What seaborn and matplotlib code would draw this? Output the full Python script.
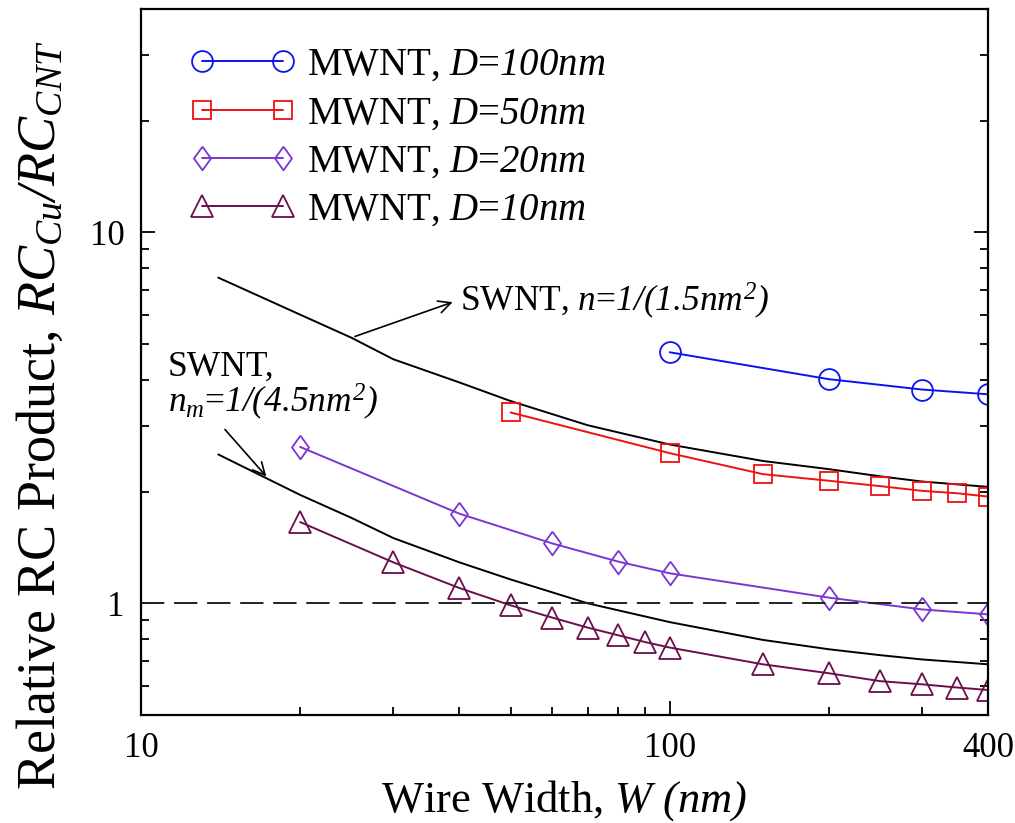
import numpy as np
import pandas as pd
import matplotlib
matplotlib.use("Agg")
import matplotlib.pyplot as plt
from matplotlib.ticker import FixedLocator, NullFormatter, FixedFormatter
import seaborn as sns

# ---- data -------------------------------------------------------------
w_d100 = [100, 200, 300, 400]
rc_d100 = [4.75, 4.02, 3.77, 3.66]

w_d50 = [50, 100, 150, 200, 250, 300, 350, 400]
rc_d50 = [3.27, 2.54, 2.23, 2.14, 2.07, 2.01, 1.98, 1.94]

w_d20 = [20, 40, 60, 80, 100, 200, 300, 400]
rc_d20 = [2.64, 1.745, 1.45, 1.295, 1.205, 1.036, 0.963, 0.934]

w_d10 = [20, 30, 40, 50, 60, 70, 80, 90, 100, 150, 200, 250, 300, 350, 400]
rc_d10 = [1.656, 1.29, 1.10, 0.988, 0.915, 0.86, 0.82, 0.786, 0.76,
          0.685, 0.648, 0.617, 0.605, 0.593, 0.584]

w_swnt = [14, 20, 25, 30, 40, 50, 70, 100, 150, 200, 250, 300, 400]
rc_swnt_dense = [7.55, 6.0, 5.2, 4.55, 3.94, 3.51, 3.02, 2.68, 2.42, 2.30, 2.20, 2.13, 2.06]
rc_swnt_metal = [2.52, 1.96, 1.70, 1.50, 1.29, 1.16, 1.0, 0.89, 0.797, 0.752, 0.725, 0.706, 0.685]

mwnt_labels = [r"MWNT, $D$=$100nm$", r"MWNT, $D$=$50nm$",
               r"MWNT, $D$=$20nm$", r"MWNT, $D$=$10nm$"]
x_tick_values = [10, 100, 400]
x_tick_labels = ["10", "100", "400"]
y_tick_values = [1, 10]
y_tick_labels = ["1", "10"]

# ---- style ------------------------------------------------------------
sns.set_theme(style="white")
plt.rcParams["font.family"] = ["Liberation Serif", "DejaVu Serif"]
plt.rcParams["mathtext.fontset"] = "custom"
# math parts are set fully in italic (digits and symbols included)
plt.rcParams["mathtext.rm"] = "Liberation Serif:italic"
plt.rcParams["mathtext.it"] = "Liberation Serif:italic"
plt.rcParams["mathtext.bf"] = "Liberation Serif:bold"
for key in ("text.color", "axes.labelcolor", "xtick.color", "ytick.color", "axes.edgecolor"):
    plt.rcParams[key] = "black"

fig = plt.figure(figsize=(10.15, 8.23), dpi=100)
ax = fig.add_axes([0.1389, 0.1312, 0.8345, 0.8579])

diamond = [(0, 1), (0.72, 0), (0, -1), (-0.72, 0), (0, 1)]
series = [
    (w_d100, rc_d100, "#0A14F0", "o", 15, mwnt_labels[0]),
    (w_d50, rc_d50, "#F01010", "s", 13, mwnt_labels[1]),
    (w_d20, rc_d20, "#7B35D2", diamond, 17, mwnt_labels[2]),
    (w_d10, rc_d10, "#6A0E4C", "^", 16, mwnt_labels[3]),
]

# SWNT reference curves
for rc in (rc_swnt_dense, rc_swnt_metal):
    sns.lineplot(x=w_swnt, y=rc, ax=ax, color="black", lw=1.4, errorbar=None)

for w, rc, col, mk, ms, lab in series:
    sns.lineplot(x=w, y=rc, ax=ax, color=col, lw=1.4, errorbar=None,
                 marker=mk, markersize=ms, markerfacecolor="none",
                 markeredgecolor=col, markeredgewidth=1.3, label=lab)

ax.axhline(1, color="#222222", lw=1.4, dashes=(12, 5))

ax.set_xscale("log")
ax.set_yscale("log")
ax.set_xlim(10, 400)
ax.set_ylim(0.5, 40)

ax.xaxis.set_major_locator(FixedLocator(x_tick_values))
ax.xaxis.set_major_formatter(FixedFormatter(x_tick_labels))
ax.xaxis.set_minor_locator(FixedLocator([20, 30, 40, 50, 60, 70, 80, 90, 200, 300]))
ax.xaxis.set_minor_formatter(NullFormatter())
ax.yaxis.set_major_locator(FixedLocator(y_tick_values))
ax.yaxis.set_major_formatter(FixedFormatter(y_tick_labels))
ax.yaxis.set_minor_locator(FixedLocator([0.6, 0.7, 0.8, 0.9, 2, 3, 4, 5, 6, 7, 8, 9, 20, 30]))
ax.yaxis.set_minor_formatter(NullFormatter())

ax.tick_params(which="both", direction="in", top=False, right=True,
               bottom=True, left=True, colors="black", width=1.3)
ax.tick_params(which="major", length=10, labelsize=25, pad=12)
ax.tick_params(which="minor", length=6)
for sp in ax.spines.values():
    sp.set_color("black")
    sp.set_linewidth(1.6)

ax.set_xlabel(r"Wire Width, $W$ $(nm)$", fontsize=32)
ax.set_ylabel(r"Relative RC Product, $RC_{Cu}/RC_{CNT}$", fontsize=39)
ax.xaxis.set_label_coords(0.5, -0.089)
ax.yaxis.set_label_coords(-0.088, 0.425)

# annotations for the SWNT curves
ax.text(40.2, 6.12, r"SWNT, $n$=$1/(1.5nm^{2})$",
        fontsize=25.5, ha="left", va="baseline")
ax.annotate("", xy=(39.3, 6.52), xytext=(25.1, 5.21),
            arrowprops=dict(arrowstyle="->", lw=1.2, color="black", mutation_scale=22))
ax.text(11.25, 4.1, "SWNT,", fontsize=25.5, ha="left", va="baseline")
ax.text(11.25, 3.27, r"$n_{m}$=$1/(4.5nm^{2})$",
        fontsize=25.5, ha="left", va="baseline")
ax.annotate("", xy=(17.4, 2.17), xytext=(14.3, 2.98),
            arrowprops=dict(arrowstyle="->", lw=1.2, color="black", mutation_scale=22))

handles, labels = ax.get_legend_handles_labels()
ax.legend(handles, labels, loc="upper left", bbox_to_anchor=(0.058, 0.946),
          frameon=False, fontsize=28, numpoints=2, handlelength=2.7,
          handletextpad=0.3, labelspacing=0.29, borderaxespad=0, borderpad=0)

fig.savefig("out.png", dpi=100, facecolor="white")
